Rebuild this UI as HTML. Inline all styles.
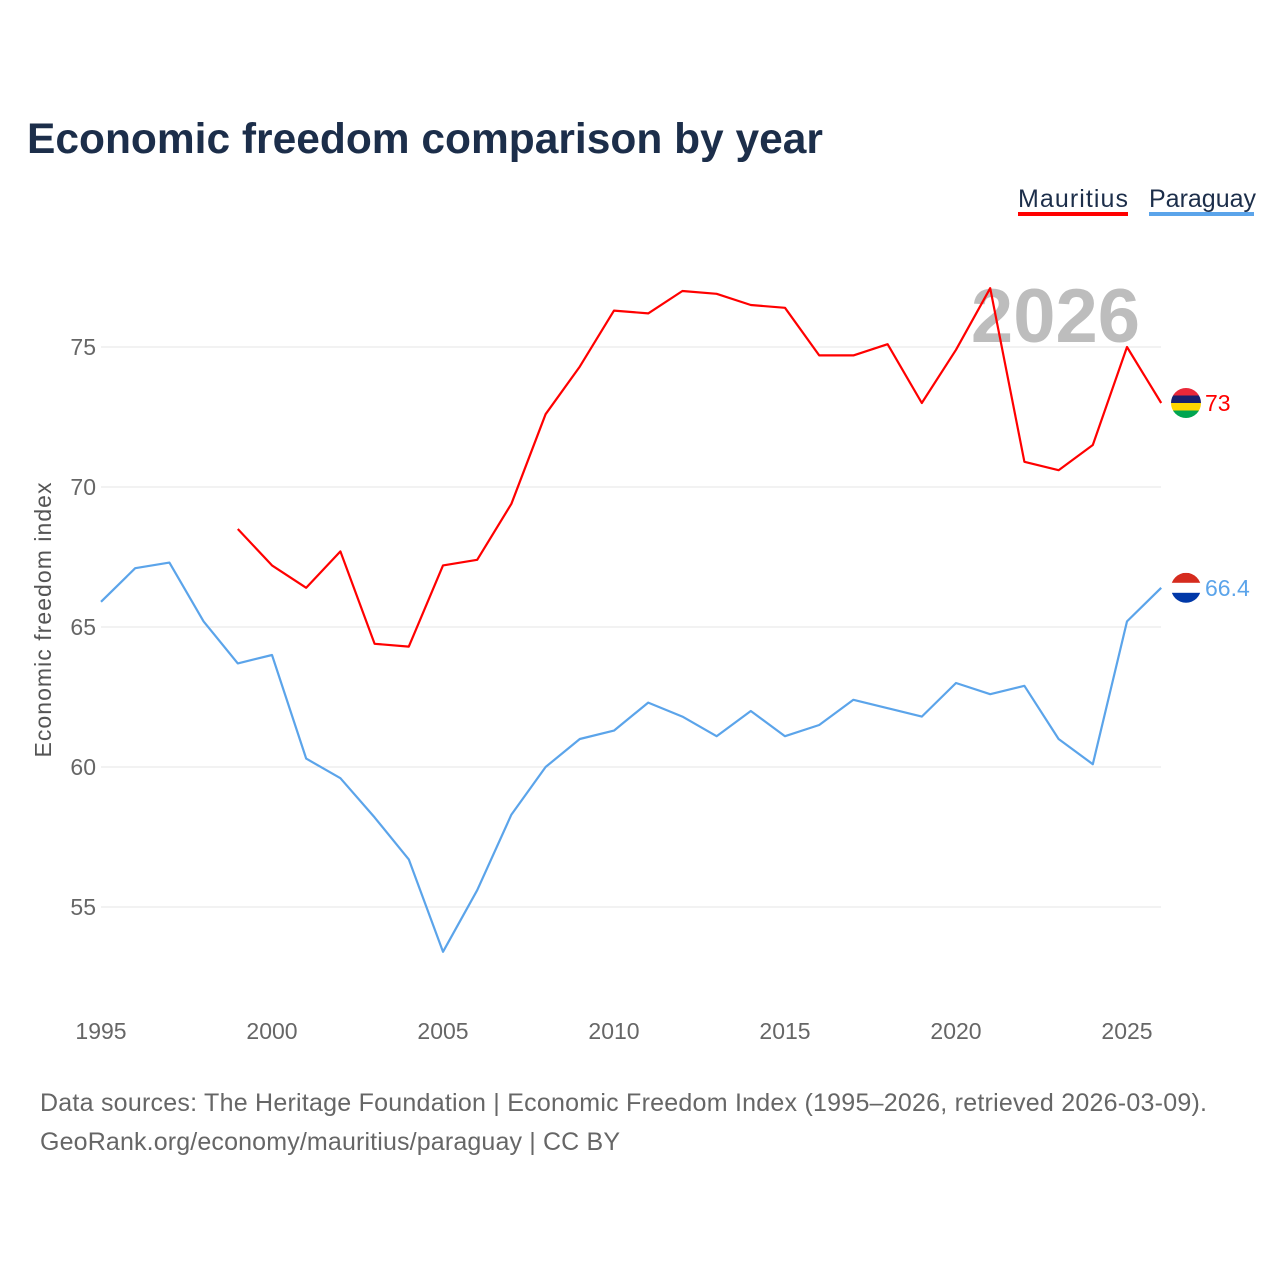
<!DOCTYPE html>
<html><head><meta charset="utf-8"><style>
body{margin:0;background:#fff;font-family:"Liberation Sans",sans-serif;}
</style></head><body>
<svg id="chart" width="1280" height="1280" xmlns="http://www.w3.org/2000/svg">
<rect width="1280" height="1280" fill="#fff"/>
<text x="27" y="153" font-size="42.5" font-weight="bold" fill="#1c2e4a">Economic freedom comparison by year</text>
<g>
<text x="1018" y="207" font-size="25" fill="#1c2e4a" textLength="110">Mauritius</text>
<rect x="1018" y="212" width="110" height="4" fill="#ff0000"/></g>
<g>
<text x="1149" y="207" font-size="25" fill="#1c2e4a">Paraguay</text>
<rect x="1149" y="212" width="105" height="4" fill="#5ba4ea"/></g>
<text x="1140" y="342" font-size="76" font-weight="bold" fill="#bdbdbd" text-anchor="end">2026</text>
<g id="grid"></g><g id="axes"></g><g id="series"></g>
<text transform="translate(51,620) rotate(-90)" font-size="23" fill="#555" text-anchor="middle" textLength="275">Economic freedom index</text>
<text x="40" y="1111" font-size="25" fill="#666" textLength="1167">Data sources: The Heritage Foundation | Economic Freedom Index (1995–2026, retrieved 2026-03-09).</text>
<text x="40" y="1150" font-size="25" fill="#666" textLength="580">GeoRank.org/economy/mauritius/paraguay | CC BY</text>
</svg>
<script>
const years=[1995,1996,1997,1998,1999,2000,2001,2002,2003,2004,2005,2006,2007,2008,2009,2010,2011,2012,2013,2014,2015,2016,2017,2018,2019,2020,2021,2022,2023,2024,2025,2026];
const mauritius=[null,null,null,null,68.5,67.2,66.4,67.7,64.4,64.3,67.2,67.4,69.4,72.6,74.3,76.3,76.2,77.0,76.9,76.5,76.4,74.7,74.7,75.1,73.0,74.9,77.1,70.9,70.6,71.5,75.0,73.0];
const paraguay=[65.9,67.1,67.3,65.2,63.7,64.0,60.3,59.6,58.2,56.7,53.4,55.6,58.3,60.0,61.0,61.3,62.3,61.8,61.1,62.0,61.1,61.5,62.4,62.1,61.8,63.0,62.6,62.9,61.0,60.1,65.2,66.4];
const yTicks=[55,60,65,70,75];
const xTicks=[1995,2000,2005,2010,2015,2020,2025];
const NS="http://www.w3.org/2000/svg";
const X=y=>101+(y-1995)*34.2;
const Y=v=>347+(75-v)*28;
function mk(t,a,p){const e=document.createElementNS(NS,t);for(const k in a)e.setAttribute(k,a[k]);document.getElementById(p).appendChild(e);return e;}
yTicks.forEach(v=>{
 const l=mk('line',{x1:101,x2:1161,y1:Y(v),y2:Y(v),stroke:'#e6e6e6','stroke-width':1},'grid');
 
 
 const t=mk('text',{x:96,y:Y(v)+8,'font-size':23,fill:'#666','text-anchor':'end'},'axes');t.textContent=v;
 
 
});
xTicks.forEach(v=>{
 const t=mk('text',{x:X(v),y:1039,'font-size':23,fill:'#666','text-anchor':'middle'},'axes');t.textContent=v;
 
 
});
function line(vals,col,name,lab,flag){
 let d='';vals.forEach((v,i)=>{if(v==null)return;d+=(d?'L':'M')+X(years[i]).toFixed(1)+','+Y(v).toFixed(1);});
 const p=mk('path',{d:d,fill:'none',stroke:col,'stroke-width':2.2,'stroke-linejoin':'round'},'series');
 
 
 const last=vals[vals.length-1],cx=1186,cy=Y(last);
 const g=mk('g',{},'series');
 
 
 const cp=mk('clipPath',{id:'c'+name},'series');
 const c=document.createElementNS(NS,'circle');c.setAttribute('cx',cx);c.setAttribute('cy',cy);c.setAttribute('r',15);cp.appendChild(c);
 const h=30/flag.length;
 flag.forEach((f,i)=>{mk('rect',{x:cx-15,y:cy-15+i*h,width:30,height:h+0.5,fill:f,'clip-path':'url(#c'+name+')'},'series');});
 const t=mk('text',{x:1205,y:cy+8,'font-size':23,fill:col},'series');t.textContent=lab;
 
 
}
line(mauritius,'#ff0000','mauritius','73',['#ea2839','#1a206d','#ffd500','#00a551']);
line(paraguay,'#5ba4ea','paraguay','66.4',['#d52b1e','#ffffff','#0038a8']);
</script>
</body></html>
